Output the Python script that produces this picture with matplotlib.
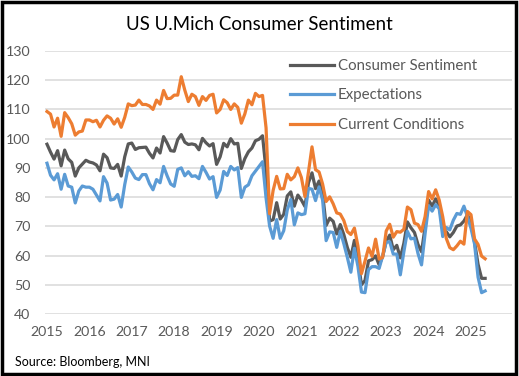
import numpy as np
import matplotlib
matplotlib.use("Agg")
import matplotlib.pyplot as plt
from matplotlib.patches import Rectangle

plt.rcParams['font.family'] = ['Lato', 'DejaVu Sans']

# monthly data, Jan 2015 .. May 2025
start_year = 2015
sentiment = [
    98.1, 95.4, 93.0, 95.9, 90.7, 96.1, 93.1, 91.9, 87.2, 90.0, 91.3, 92.6,
    92.0, 91.7, 91.0, 89.0, 94.7, 93.5, 90.0, 89.8, 91.2, 87.2, 93.8, 98.2,
    98.5, 96.3, 96.9, 97.0, 97.1, 95.0, 93.4, 96.8, 95.1, 100.7, 98.5, 95.9,
    95.7, 99.7, 101.4, 98.8, 98.0, 98.2, 97.9, 96.2, 100.1, 98.6, 97.5, 98.3,
    91.2, 93.8, 98.4, 97.2, 100.0, 98.2, 98.4, 89.8, 93.2, 95.5, 96.8, 99.3,
    99.8, 101.0, 89.1, 71.8, 72.3, 78.1, 72.5, 74.1, 80.4, 81.8, 76.9, 80.7,
    79.0, 76.8, 84.9, 88.3, 82.9, 85.5, 81.2, 70.3, 72.8, 71.7, 67.4, 70.6,
    67.2, 62.8, 59.4, 65.2, 58.4, 50.0, 51.5, 58.2, 58.6, 59.9, 56.8, 59.7,
    64.9, 67.0, 62.0, 63.5, 59.2, 64.2, 71.5, 69.5, 67.9, 63.8, 61.3, 69.7,
    79.0, 76.9, 79.4, 77.2, 69.1, 68.2, 66.4, 67.9, 70.1, 70.5, 71.8, 74.0,
    71.1, 64.7, 57.0, 52.2, 52.2,
]
expectations = [
    91.6, 87.5, 85.9, 88.0, 82.7, 87.8, 83.8, 83.4, 78.0, 82.1, 83.8, 83.4,
    83.4, 82.7, 80.7, 78.7, 87.0, 84.8, 79.0, 79.3, 80.9, 76.6, 84.3, 90.3,
    88.6, 86.5, 86.0, 87.7, 87.7, 84.6, 82.5, 86.0, 84.9, 90.5, 87.3, 84.5,
    83.7, 89.5, 90.0, 87.3, 88.7, 87.1, 87.3, 86.3, 90.5, 88.5, 86.2, 87.0,
    79.9, 82.4, 88.8, 87.4, 90.5, 89.3, 90.1, 79.9, 83.4, 84.2, 87.3, 88.9,
    90.5, 92.1, 79.7, 70.1, 65.9, 72.3, 65.9, 68.5, 75.6, 79.2, 70.5, 74.6,
    74.0, 74.3, 83.0, 82.7, 78.8, 83.5, 79.0, 65.1, 68.1, 67.9, 62.8, 68.3,
    64.1, 59.4, 54.3, 62.5, 56.3, 47.5, 47.3, 55.2, 56.2, 56.2, 55.6, 59.9,
    64.6, 64.7, 60.5, 60.5, 53.4, 61.3, 68.3, 65.7, 66.0, 60.7, 56.8, 67.4,
    77.1, 75.2, 77.4, 76.0, 66.5, 69.6, 68.8, 72.1, 74.4, 74.1, 76.9, 73.3,
    69.3, 64.0, 52.6, 47.3, 47.9,
]
current = [
    109.3, 108.4, 104.0, 107.0, 100.8, 108.9, 107.2, 105.1, 101.2, 102.3, 102.6, 106.4,
    106.4, 105.8, 106.3, 104.0, 106.3, 107.8, 107.0, 105.0, 106.8, 103.9, 107.3, 111.9,
    111.3, 111.5, 113.2, 111.7, 111.7, 111.2, 110.0, 113.2, 111.8, 116.5, 113.7, 113.8,
    114.9, 114.9, 121.2, 116.6, 112.7, 115.2, 114.4, 111.4, 114.4, 113.1, 114.8, 115.2,
    108.8, 110.0, 113.3, 112.3, 110.0, 111.9, 110.7, 105.3, 108.5, 113.2, 111.6, 115.5,
    114.4, 114.8, 103.7, 74.3, 82.3, 87.1, 82.8, 82.9, 87.8, 85.9, 87.0, 90.0,
    86.7, 80.2, 88.6, 97.2, 89.4, 88.6, 84.5, 78.5, 80.1, 77.7, 74.6, 74.2,
    72.0, 68.2, 67.2, 69.4, 63.3, 53.8, 58.1, 62.6, 59.7, 65.6, 58.8, 59.4,
    68.4, 70.7, 66.3, 68.2, 68.0, 69.0, 76.6, 75.7, 71.1, 70.6, 68.3, 73.3,
    81.9, 79.4, 82.5, 79.0, 73.3, 65.9, 62.7, 62.0, 63.3, 64.9, 63.9, 75.1,
    74.0, 65.7, 63.8, 59.8, 58.9,
]
year_ticks = list(range(2015, 2026))
y_ticks = list(range(40, 131, 10))

x = start_year + np.arange(len(sentiment)) / 12.0

W, H = 519, 376
fig = plt.figure(figsize=(W / 100, H / 100), dpi=100)
fig.patch.set_facecolor('white')
ax = fig.add_axes([45 / W, (H - 314) / H, (512 - 45) / W, (314 - 51) / H])

ax.plot(x, sentiment, color='#595959', lw=2.3, label='Consumer Sentiment', solid_joinstyle='round')
ax.plot(x, expectations, color='#5B9BD5', lw=2.3, label='Expectations', solid_joinstyle='round')
ax.plot(x, current, color='#ED7D31', lw=2.3, label='Current Conditions', solid_joinstyle='round')

ax.set_xlim(2014.953, 2025.967)
ax.set_ylim(40, 130)
ax.set_xticks(year_ticks)
ax.set_xticklabels([str(y) for y in year_ticks])
ax.set_yticks(y_ticks)
ax.grid(axis='y', color='#D9D9D9', lw=1.1)
ax.set_axisbelow(True)
for s in ax.spines.values():
    s.set_visible(False)
ax.tick_params(axis='both', length=0, colors='#595959', labelsize=10.2)
ax.tick_params(axis='y', pad=10.5)
ax.tick_params(axis='x', pad=9)

leg = ax.legend(loc='upper left', bbox_to_anchor=(290 / W, 1 - 59 / H),
                bbox_transform=fig.transFigure, frameon=False, fontsize=10.8,
                handlelength=2.9, handletextpad=0.3, labelspacing=1.03,
                borderpad=0, borderaxespad=0)
for t in leg.get_texts():
    t.set_color('#595959')

fig.text(0.5, 1 - 25 / H, 'US U.Mich Consumer Sentiment', ha='center', va='center',
         fontsize=13.5, color='black')
fig.text(15 / W, 1 - 362 / H, 'Source: Bloomberg, MNI', ha='left', va='center',
         fontsize=9, color='black')

# black frame round the whole picture
fig.patches.append(Rectangle((0.003, 0.004), 0.992, 0.992, transform=fig.transFigure,
                             fill=False, edgecolor='black', lw=2.5))

fig.savefig('out.png', dpi=100)
